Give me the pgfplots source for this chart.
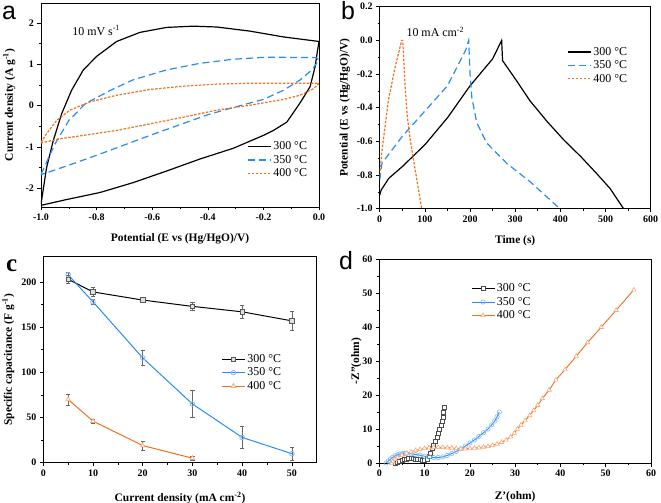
\documentclass[border=0pt]{standalone}
\usepackage{fontspec}
\setmainfont{Liberation Serif}
\newfontfamily\sansf{Liberation Sans}
\usepackage{pgfplots}
\pgfplotsset{compat=1.18}
\definecolor{cblue}{RGB}{40,140,240}
\definecolor{corange}{RGB}{238,112,32}
\pgfplotsset{
 panel/.style={scale only axis, axis line style={line width=0.7bp}, tick align=outside,
  xtick pos=left, ytick pos=left, major tick length=3.5bp, minor tick length=2bp,
  every tick/.style={black, line width=0.6bp}, minor x tick num=1, minor y tick num=1,
  /pgf/number format/assume math mode=true,
  tick label style={font=\bfseries\fontsize{10}{11}\selectfont},
  label style={font=\bfseries\fontsize{11.5}{13}\selectfont},
  legend style={draw=none, fill=none, font=\fontsize{12}{13}\selectfont, row sep=0bp},
  legend cell align=left,
 },
 lineleg/.style={legend image code/.code={\draw[##1] (0bp,0bp) -- (23bp,0bp);}},
 markleg/.style={legend image code/.code={\draw[mark repeat=2,mark phase=2,##1] plot coordinates {(0bp,0bp) (11.5bp,0bp) (23bp,0bp)};}},
 cvb/.style={cblue, line width=1.2bp, dash pattern=on 7bp off 4bp},
 cvo/.style={corange, line width=1.2bp, dash pattern=on 2.5bp off 1.5bp},
 cvk/.style={black, line width=1.2bp},
}
\begin{document}
\begin{tikzpicture}
\useasboundingbox (0,0) rectangle (661bp,503bp);
% ---------------- panel a
\begin{axis}[panel, lineleg, at={(41bp,296bp)}, anchor=south west, width=278bp, height=204bp,
 xmin=-1, xmax=0, ymin=-2.45, ymax=2.48,
 xtick={-1,-0.8,...,0}, ytick={-2,-1,0,1,2},
 xticklabel style={/pgf/number format/.cd, fixed, fixed zerofill, precision=1},
 xlabel={Potential (E vs (Hg/HgO)/V)}, ylabel={Current density (A g\textsuperscript{-1})},
 xlabel shift=6bp, ylabel shift=3.5bp,
 legend style={at={(0.73,0.34)}, anchor=north west}]
\addplot[cvk] coordinates {(-1,-2.38) (-0.98,-1.5) (-0.956,-0.85) (-0.926,-0.2) (-0.89,0.37) (-0.848,0.86) (-0.80,1.19) (-0.728,1.55) (-0.644,1.77) (-0.548,1.89) (-0.452,1.92) (-0.368,1.90) (-0.248,1.80) (-0.128,1.66) (0,1.55)
 (-0.006,1.3) (-0.014,0.94) (-0.032,0.46) (-0.062,0.13) (-0.086,-0.11) (-0.116,-0.40) (-0.164,-0.60) (-0.2,-0.72) (-0.308,-1.03) (-0.428,-1.29) (-0.548,-1.58) (-0.668,-1.86) (-0.788,-2.1) (-0.908,-2.27) (-1,-2.41)};
\addlegendentry{300 °C}
\addplot[cvb] coordinates {(-1,-1.66) (-0.95,-0.93) (-0.9,-0.36) (-0.84,0.05) (-0.75,0.37) (-0.67,0.62) (-0.55,0.86) (-0.43,1.02) (-0.31,1.12) (-0.19,1.17) (-0.01,1.16) (0,1.1)
 (-0.026,0.86) (-0.068,0.62) (-0.128,0.37) (-0.2,0.15) (-0.3,-0.03) (-0.4,-0.22) (-0.5,-0.46) (-0.6,-0.7) (-0.7,-0.95) (-0.8,-1.2) (-0.9,-1.44) (-1,-1.67)};
\addlegendentry{350 °C}
\addplot[cvo] coordinates {(-1,-0.89) (-0.98,-0.68) (-0.944,-0.36) (-0.896,-0.11) (-0.824,0.09) (-0.728,0.25) (-0.608,0.39) (-0.488,0.47) (-0.368,0.52) (-0.248,0.54) (-0.128,0.54) (0,0.54)
 (-0.02,0.41) (-0.068,0.25) (-0.128,0.15) (-0.248,0.01) (-0.368,-0.11) (-0.488,-0.28) (-0.608,-0.44) (-0.728,-0.6) (-0.848,-0.72) (-0.93,-0.8) (-1,-0.9)};
\addlegendentry{400 °C}
\node[anchor=west, font=\fontsize{12}{13}\selectfont] at (rel axis cs:0.1,0.866) {10 mV s\textsuperscript{-1}};
\end{axis}
% ---------------- panel b
\begin{axis}[panel, lineleg, at={(379.7bp,294.3bp)}, anchor=south west, width=271bp, height=202bp,
 xmin=0, xmax=600, ymin=-1, ymax=0.2,
 xtick={0,100,...,600}, ytick={-1,-0.8,...,0.2},
 yticklabel style={/pgf/number format/.cd, fixed, fixed zerofill, precision=1},
 xlabel={Time (s)}, ylabel={Potential (E vs (Hg/HgO)/V)},
 xlabel shift=6bp,
 legend style={at={(0.68,0.82)}, anchor=north west}]
\addplot[cvk] coordinates {(0,-0.92) (3,-0.89) (20,-0.82) (50,-0.75) (100,-0.62) (150,-0.46) (200,-0.27) (250,-0.11) (270,0)
 (271,-0.06) (272,-0.12) (303,-0.24) (333,-0.36) (370,-0.48) (407,-0.59) (445,-0.69) (480,-0.79) (510,-0.88) (540,-1.0)};
\addlegendentry{300 °C}
\addplot[cvb] coordinates {(0,-0.83) (5,-0.73) (50,-0.57) (100,-0.42) (150,-0.27) (190,-0.06) (197,0)
 (200,-0.2) (204,-0.34) (215,-0.49) (237,-0.61) (281,-0.73) (333,-0.84) (399,-1.0)};
\addlegendentry{350 °C}
\addplot[cvo] coordinates {(0,-0.8) (4.4,-0.67) (19,-0.36) (34,-0.16) (48.7,0)
 (51,0) (56,-0.26) (61,-0.45) (67,-0.58) (78,-0.76) (93,-1.0)};
\addlegendentry{400 °C}
\node[anchor=west, font=\fontsize{12}{13}\selectfont] at (rel axis cs:0.086,0.875) {10 mA cm\textsuperscript{-2}};
\end{axis}
% ---------------- panel c
\begin{axis}[panel, markleg, at={(43.3bp,40.3bp)}, anchor=south west, width=273.4bp, height=206bp,
 xmin=0, xmax=55, ymin=0, ymax=228,
 xtick={0,10,...,50}, ytick={0,50,...,200},
 xlabel={Current density (mA cm\textsuperscript{-2})}, ylabel={Specific capacitance (F g\textsuperscript{-1})},
 xlabel shift=9bp,
 legend style={at={(0.64,0.545)}, anchor=north west},
 error bars/y dir=both, error bars/y explicit,
 error bars/error bar style={gray!80!black, line width=0.6bp},
 error bars/error mark options={rotate=90, mark size=2.2bp, gray!80!black, line width=0.6bp}]
\addplot[black, line width=1bp, mark=square*, mark size=2.2bp, mark options={fill=gray!25, draw=gray!70!black, line width=0.8bp}]
 table[x=x, y=y, y error=e] {
x y e
5 203 4
10 189 5
20 180 2
30 173 4
40 167 7
50 157 11
};
\addlegendentry{300 °C}
\addplot[cblue, line width=1bp, mark=o, mark size=2.3bp, mark options={fill=white, draw=cblue!60, line width=0.8bp}]
 table[x=x, y=y, y error=e] {
x y e
5 208 3
10 178 3
20 116 8
30 65 15
40 28 12
50 10 7
};
\addlegendentry{350 °C}
\addplot[corange, line width=1bp, mark=triangle*, mark size=2.6bp, mark options={fill=white, draw=corange!60, line width=0.8bp}]
 table[x=x, y=y, y error=e] {
x y e
5 70 6
10 46 2
20 19 5
30 5 2
};
\addlegendentry{400 °C}
\end{axis}
% ---------------- panel d
\begin{axis}[panel, markleg, at={(379.3bp,40bp)}, anchor=south west, width=271.7bp, height=203.7bp,
 xmin=0, xmax=60, ymin=0, ymax=60,
 xtick={0,10,...,60}, ytick={0,10,...,60},
 xlabel={Z'(ohm)}, ylabel={-Z''(ohm)},
 xlabel shift=7.5bp, ylabel shift=-6bp,
 legend style={at={(0.326,0.9)}, anchor=north west}]
\addplot[black, line width=0.9bp, mark=square*, mark size=2bp, mark options={fill=white, draw=gray!60!black, line width=0.6bp}] coordinates {
(3.5,0) (4,0.3) (4.5,0.6) (5,0.9) (5.5,1.1) (6,1.2) (6.5,1.3) (7,1.3) (7.5,1.25) (8,1.2) (8.5,1.1) (9,1.0) (9.5,0.9) (10,0.9) (10.5,1.2) (11,2) (11.3,3) (11.7,4.2) (12,5.3) (12.4,6.5) (12.7,7.6) (13,8.7) (13.3,9.8) (13.6,11) (13.9,12.3) (14.1,13.5) (14.2,14.8) (14.3,16.5)};
\addlegendentry{300 °C}
\addplot[cblue, line width=0.9bp, mark=o, mark size=2.2bp, mark options={fill=white, draw=cblue!60, line width=0.6bp}] coordinates {
(1.5,0) (2,0.6) (2.5,1.2) (3,1.7) (3.5,2.1) (4,2.4) (4.5,2.6) (5,2.7) (5.5,2.8) (6,2.8) (7,2.7) (8,2.5) (9,2.3) (10,2.0) (11,1.8) (12,1.6) (13,1.6) (14,1.8) (15,2.2) (16,2.8) (17,3.4) (18,4.2) (19,5.0) (20,5.9) (21,6.8) (22,7.8) (23,8.9) (24,10.0) (24.8,11.2) (25.5,12.4) (26,13.6) (26.5,15)};
\addlegendentry{350 °C}
\addplot[corange, line width=0.9bp, mark=triangle*, mark size=2.5bp, mark options={fill=white, draw=corange!60, line width=0.6bp}] coordinates {
(2.7,0) (3,0.5) (3.5,1.1) (4,1.6) (5,2.3) (6,2.9) (7,3.3) (8,3.7) (9,4.0) (10,4.3) (11,4.5) (12,4.6) (13,4.6) (14,4.6) (15,4.5) (16,4.4) (17,4.3) (18,4.2) (19,4.2) (20,4.3) (21,4.4) (22,4.5) (23,4.7) (24,4.9) (25,5.2) (26,5.6) (27,6.1) (28,6.8) (29,7.7) (29.8,8.8) (30.5,10) (31.3,11.2) (32.2,12.5) (33.2,14) (34.1,15.5) (35,17) (36,19) (37.5,21.5) (39,24.5) (41,27.5) (43.5,31.5) (46,35.5) (49,40) (52.3,45) (56.2,51)};
\addlegendentry{400 °C}
\end{axis}
% panel labels
\node[anchor=base west, font=\sansf\fontsize{25}{25}\selectfont, inner sep=0] at (2bp,483bp) {a};
\node[anchor=base west, font=\sansf\fontsize{25}{25}\selectfont, inner sep=0] at (341bp,483bp) {b};
\node[anchor=base west, font=\bfseries\fontsize{25}{25}\selectfont, inner sep=0] at (6bp,231bp) {c};
\node[anchor=base west, font=\sansf\fontsize{25}{25}\selectfont, inner sep=0] at (339bp,233bp) {d};
\end{tikzpicture}
\end{document}
